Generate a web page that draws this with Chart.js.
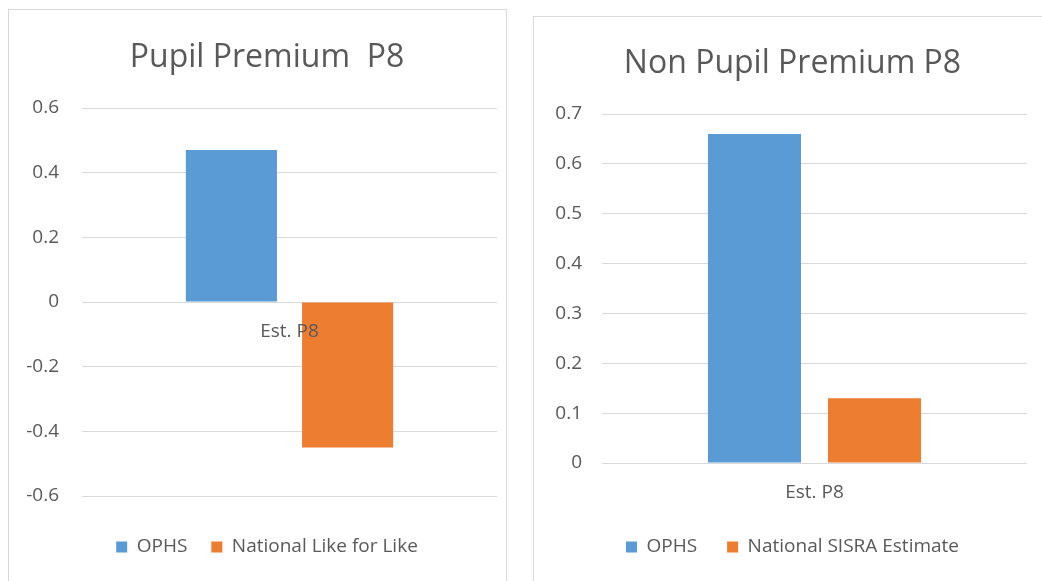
<!DOCTYPE html>
<html>
<head>
    <title>P8 charts</title>
    <script src="https://cdn.jsdelivr.net/npm/chart.js"></script>
    <style>
        body { margin: 0; background: #fff; overflow: hidden; }
        .panel { position: absolute; border: 1px solid #d9d9d9; background: #fff; overflow: hidden; }
        #leftPanel { left: 8px; top: 9px; width: 497px; height: 600px; }
        #rightPanel { left: 533px; top: 16px; width: 540px; height: 600px; }
        canvas { display: block; }
    </style>
</head>
<body>
    <div class="panel" id="leftPanel"><canvas id="ppChart" width="516" height="571"></canvas></div>
    <div class="panel" id="rightPanel"><canvas id="nonPpChart" width="517" height="564"></canvas></div>

    <script>
    // values
    const categories = ['Est. P8'];

    const ppTitle = 'Pupil Premium  P8';
    const ppSeries = ['OPHS', 'National Like for Like'];
    const ppOphs = [0.47];
    const ppNational = [-0.45];

    const nonPpTitle = 'Non Pupil Premium P8';
    const nonPpSeries = ['OPHS', 'National SISRA Estimate'];
    const nonPpOphs = [0.66];
    const nonPpNational = [0.13];

    const blue = '#5b9bd5';
    const orange = '#ed7d31';
    const textGrey = '#595959';
    const gridGrey = '#d9d9d9';

    Chart.defaults.font.family = '"Open Sans", sans-serif';
    Chart.defaults.color = textGrey;
    Chart.defaults.animation = false;

    function makeChart(id, cfg) {
        return new Chart(document.getElementById(id).getContext('2d'), {
            type: 'bar',
            data: {
                labels: categories,
                datasets: [{
                    label: cfg.series[0],
                    data: cfg.a,
                    backgroundColor: blue,
                    categoryPercentage: cfg.catPct,
                    barPercentage: cfg.barPct
                }, {
                    label: cfg.series[1],
                    data: cfg.b,
                    backgroundColor: orange,
                    categoryPercentage: cfg.catPct,
                    barPercentage: cfg.barPct
                }]
            },
            options: {
                responsive: false,
                layout: { padding: { left: 0, right: 0, top: 0, bottom: 14.5 } },
                plugins: {
                    tooltip: { enabled: false },
                    title: {
                        display: true,
                        text: cfg.title,
                        color: textGrey,
                        font: { size: 32, weight: 'normal' },
                        padding: { top: cfg.titleTop, bottom: cfg.titleGap }
                    },
                    legend: {
                        position: 'bottom',
                        // empty legend title only used as a spacer under the plot
                        title: {
                            display: true,
                            text: '',
                            font: { size: 1, lineHeight: 1 },
                            padding: { top: cfg.legendGap, bottom: 0 }
                        },
                        labels: {
                            boxWidth: 11,
                            boxHeight: 11,
                            padding: cfg.legendPad,
                            color: textGrey,
                            font: { size: 19 }
                        }
                    }
                },
                scales: {
                    x: {
                        position: { y: 0 },
                        grid: { display: false, drawTicks: false },
                        border: { display: false },
                        ticks: { z: 1, padding: 18, color: textGrey, font: { size: 19 } }
                    },
                    y: {
                        min: cfg.min,
                        max: cfg.max,
                        afterFit: (scale) => { scale.width = cfg.yWidth; },
                        grid: { color: gridGrey, drawTicks: false },
                        border: { display: false },
                        ticks: { stepSize: cfg.step, padding: cfg.yPad, color: textGrey, font: { size: 19 } }
                    },
                    // blank right axis, keeps the title and legend centred like the original
                    spacer: {
                        type: 'linear',
                        position: 'right',
                        afterFit: (scale) => { scale.width = cfg.rightGap; },
                        grid: { display: false, drawTicks: false },
                        border: { display: false },
                        ticks: { display: false }
                    }
                }
            }
        });
    }

    makeChart('ppChart', {
        title: ppTitle, series: ppSeries, a: ppOphs, b: ppNational,
        min: -0.6, max: 0.6, step: 0.2,
        catPct: 0.56, barPct: 0.784,
        titleTop: 29, titleGap: 30.6, legendGap: 16.5, legendPad: 24,
        yWidth: 73, yPad: 23, rightGap: 28
    });

    makeChart('nonPpChart', {
        title: nonPpTitle, series: nonPpSeries, a: nonPpOphs, b: nonPpNational,
        min: 0, max: 0.7, step: 0.1,
        catPct: 0.565, barPct: 0.775,
        titleTop: 28, titleGap: 30.6, legendGap: 43.5, legendPad: 30,
        yWidth: 68, yPad: 20, rightGap: 24
    });
    </script>
</body>
</html>
